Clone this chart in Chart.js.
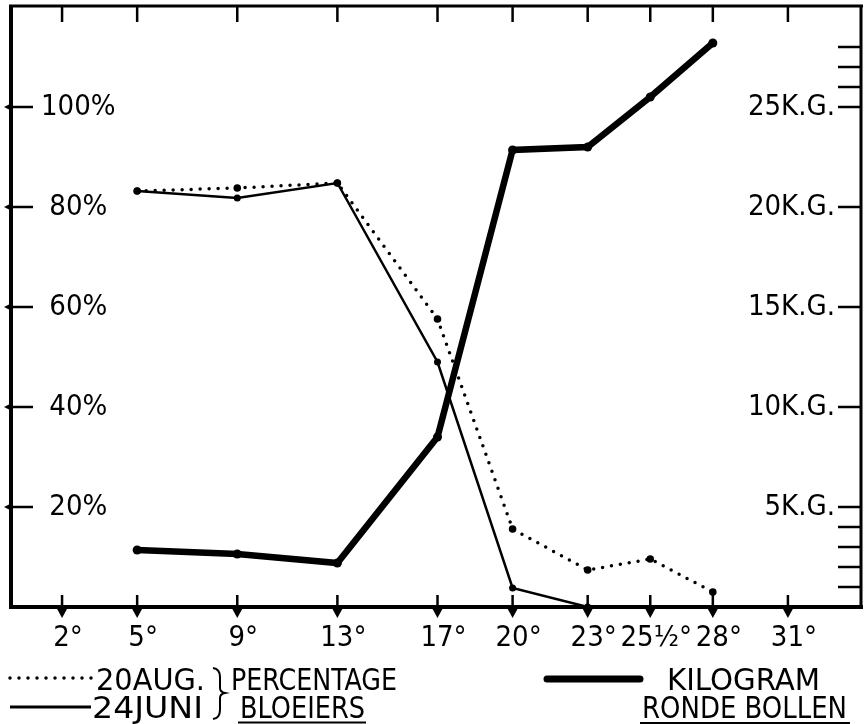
<!DOCTYPE html>
<html><head><meta charset="utf-8">
<script src="https://cdn.jsdelivr.net/npm/chart.js@4/dist/chart.umd.min.js"></script>
<style>html,body{margin:0;padding:0;background:#fff;}canvas{display:block}</style>
</head><body>
<canvas id="c" width="864" height="724"></canvas>
<script>
// ---- data ----
const temps = [5, 9, 13, 17, 20, 23, 25.5, 28];
const pctAug20 = [83.2, 83.8, 84.8, 57.6, 15.6, 7.4, 9.6, 3.0];
const tempsJun = [5, 9, 13, 17, 20, 23];
const pctJun24 = [83.2, 81.8, 84.8, 49.0, 3.8, 0];
const kgRound = [2.85, 2.65, 2.2, 8.5, 22.85, 23.0, 25.5, 28.2];
const xTickValues = [2, 5, 9, 13, 17, 20, 23, 25.5, 28, 31];
const xTickLabels = ['2°', '5°', '9°', '13°', '17°', '20°', '23°', '25½°', '28°', '31°'];
const pctTickValues = [20, 40, 60, 80, 100];
const pctTickLabels = ['20%', '40%', '60%', '80%', '100%'];
const kgTickValues = [5, 10, 15, 20, 25];
const kgTickLabels = ['5K.G.', '10K.G.', '15K.G.', '20K.G.', '25K.G.'];
const kgMinorTicks = [1, 2, 3, 4, 26, 27, 28];
const legendTexts = ['20AUG.', '24JUNI', 'PERCENTAGE', 'BLOEIERS', 'KILOGRAM', 'RONDE BOLLEN'];

const FONT = '"DejaVu Sans Condensed", "Liberation Sans Narrow", "DejaVu Sans", sans-serif';
const INK = '#000';

const framePlugin = {
  id: 'frame',
  afterDatasetsDraw(chart) {
    const ctx = chart.ctx;
    const a = chart.chartArea;
    const xs = chart.scales.x, yp = chart.scales.yPct, yk = chart.scales.yKg;
    ctx.save();
    ctx.strokeStyle = INK; ctx.fillStyle = INK; ctx.lineCap = 'butt';
    // frame
    ctx.lineWidth = 4;
    ctx.beginPath(); ctx.moveTo(a.left, a.top - 1); ctx.lineTo(a.left, a.bottom + 1); ctx.stroke();
    ctx.beginPath(); ctx.moveTo(a.left - 2, a.bottom); ctx.lineTo(a.right + 2, a.bottom); ctx.stroke();
    ctx.lineWidth = 3;
    ctx.beginPath(); ctx.moveTo(a.left - 2, a.top); ctx.lineTo(a.right + 2, a.top); ctx.stroke();
    ctx.beginPath(); ctx.moveTo(a.right, a.top); ctx.lineTo(a.right, a.bottom); ctx.stroke();
    // x ticks (bottom with arrowheads, top plain)
    ctx.lineWidth = 2.5;
    xTickValues.forEach(v => {
      const px = xs.getPixelForValue(v);
      ctx.beginPath(); ctx.moveTo(px, a.bottom - 12); ctx.lineTo(px, a.bottom); ctx.stroke();
      ctx.beginPath(); ctx.moveTo(px - 6, a.bottom); ctx.lineTo(px + 6, a.bottom); ctx.lineTo(px, a.bottom + 11); ctx.closePath(); ctx.fill();
      ctx.beginPath(); ctx.moveTo(px, a.top); ctx.lineTo(px, a.top + 16); ctx.stroke();
    });
    // left ticks with arrowheads
    pctTickValues.forEach(v => {
      const py = yp.getPixelForValue(v);
      ctx.beginPath(); ctx.moveTo(a.left - 3, py); ctx.lineTo(a.left + 22, py); ctx.stroke();
      ctx.beginPath(); ctx.moveTo(a.left - 7, py); ctx.lineTo(a.left + 1, py - 4); ctx.lineTo(a.left + 1, py + 4); ctx.closePath(); ctx.fill();
    });
    // right ticks
    kgTickValues.concat(kgMinorTicks).forEach(v => {
      const py = yk.getPixelForValue(v);
      ctx.beginPath(); ctx.moveTo(a.right - 23, py); ctx.lineTo(a.right, py); ctx.stroke();
    });
    ctx.restore();
  },
  afterDraw(chart) {
    const ctx = chart.ctx;
    ctx.save();
    ctx.fillStyle = INK; ctx.strokeStyle = INK;
    ctx.font = '30px ' + FONT;
    ctx.textBaseline = 'alphabetic';
    const txt = (s, x0, x1, base) => {
      const w = ctx.measureText(s).width;
      ctx.save(); ctx.translate(x0, base); ctx.scale((x1 - x0) / w, 1); ctx.fillText(s, 0, 0); ctx.restore();
    };
    // dotted sample
    ctx.lineWidth = 3.5; ctx.lineCap = 'round'; ctx.setLineDash([0, 9]);
    ctx.beginPath(); ctx.moveTo(10, 678); ctx.lineTo(92, 678); ctx.stroke();
    ctx.setLineDash([]); ctx.lineCap = 'butt';
    // solid sample
    ctx.lineWidth = 3;
    ctx.beginPath(); ctx.moveTo(10, 707); ctx.lineTo(91, 707); ctx.stroke();
    txt(legendTexts[0], 96, 205, 690);
    txt(legendTexts[1], 92, 203, 718);
    // brace
    ctx.lineWidth = 2;
    ctx.beginPath();
    ctx.moveTo(213, 668);
    ctx.quadraticCurveTo(220, 669, 220, 677);
    ctx.lineTo(220, 688);
    ctx.quadraticCurveTo(220, 692, 225, 693);
    ctx.quadraticCurveTo(220, 694, 220, 698);
    ctx.lineTo(220, 710);
    ctx.quadraticCurveTo(220, 718, 213, 719);
    ctx.stroke();
    txt(legendTexts[2], 231, 397, 690);
    txt(legendTexts[3], 240, 365, 718);
    ctx.lineWidth = 2;
    ctx.beginPath(); ctx.moveTo(238, 722.5); ctx.lineTo(366, 722.5); ctx.stroke();
    // thick sample
    ctx.lineWidth = 7; ctx.lineCap = 'round';
    ctx.beginPath(); ctx.moveTo(547, 679); ctx.lineTo(640, 679); ctx.stroke();
    ctx.lineCap = 'butt';
    txt(legendTexts[4], 667, 820, 690);
    txt(legendTexts[5], 642, 847, 718);
    ctx.lineWidth = 2;
    ctx.beginPath(); ctx.moveTo(640, 723); ctx.lineTo(850, 723); ctx.stroke();
    ctx.restore();
  }
};

const zeroW = s => { s.width = 0; s.paddingTop = 0; s.paddingBottom = 0; s.paddingLeft = 0; s.paddingRight = 0; };

new Chart(document.getElementById('c'), {
  type: 'line',
  data: {
    datasets: [
      {
        label: 'Kilogram ronde bollen',
        yAxisID: 'yKg',
        data: temps.map((t, i) => ({ x: t, y: kgRound[i] })),
        borderColor: INK, backgroundColor: INK,
        borderWidth: 6.5, pointRadius: 4.5, pointBorderWidth: 0, pointBackgroundColor: INK,
        tension: 0, borderCapStyle: 'round'
      },
      {
        label: '24 Juni',
        yAxisID: 'yPct',
        data: tempsJun.map((t, i) => ({ x: t, y: pctJun24[i] })),
        borderColor: INK, backgroundColor: INK,
        borderWidth: 2.5, pointRadius: 3.5, pointBorderWidth: 0, pointBackgroundColor: INK,
        tension: 0
      },
      {
        label: '20 Aug.',
        yAxisID: 'yPct',
        data: temps.map((t, i) => ({ x: t, y: pctAug20[i] })),
        borderColor: INK, backgroundColor: INK,
        borderWidth: 3.5, borderDash: [0, 9], borderCapStyle: 'round',
        pointRadius: 3.8, pointBorderWidth: 0, pointBackgroundColor: INK,
        tension: 0
      }
    ]
  },
  options: {
    responsive: false,
    animation: false,
    devicePixelRatio: 1,
    layout: { autoPadding: false, padding: { left: 11, right: 3, top: 6, bottom: 0 } },
    plugins: { legend: { display: false }, tooltip: { enabled: false } },
    scales: {
      x: {
        type: 'linear', position: 'bottom', min: -0.04, max: 33.92,
        grid: { display: false, drawTicks: false },
        border: { display: false },
        afterBuildTicks: s => { s.ticks = xTickValues.map(v => ({ value: v })); },
        afterFit: s => { s.height = 117; s.paddingLeft = 0; s.paddingRight = 0; },
        ticks: {
          autoSkip: false, maxRotation: 0, minRotation: 0, padding: 14, labelOffset: 6, color: INK,
          font: { family: FONT, size: 29 },
          callback: v => { const i = xTickValues.indexOf(v); return i < 0 ? '' : xTickLabels[i]; }
        }
      },
      yPct: {
        type: 'linear', position: 'left', min: 0, max: 120.2,
        grid: { display: false, drawTicks: false },
        border: { display: false },
        afterBuildTicks: s => { s.ticks = pctTickValues.map(v => ({ value: v })); },
        afterFit: zeroW,
        ticks: {
          mirror: true, crossAlign: 'center', padding: 30, color: INK,
          font: { family: FONT, size: 29 },
          callback: v => { const i = pctTickValues.indexOf(v); return i < 0 ? '' : pctTickLabels[i]; }
        }
      },
      yKg: {
        type: 'linear', position: 'right', min: 0, max: 30.05,
        grid: { display: false, drawTicks: false },
        border: { display: false },
        afterBuildTicks: s => { s.ticks = kgTickValues.map(v => ({ value: v })); },
        afterFit: zeroW,
        ticks: {
          mirror: true, padding: -26, color: INK,
          font: { family: FONT, size: 29 },
          callback: v => { const i = kgTickValues.indexOf(v); return i < 0 ? '' : kgTickLabels[i]; }
        }
      }
    }
  },
  plugins: [framePlugin]
});
</script>
</body></html>
